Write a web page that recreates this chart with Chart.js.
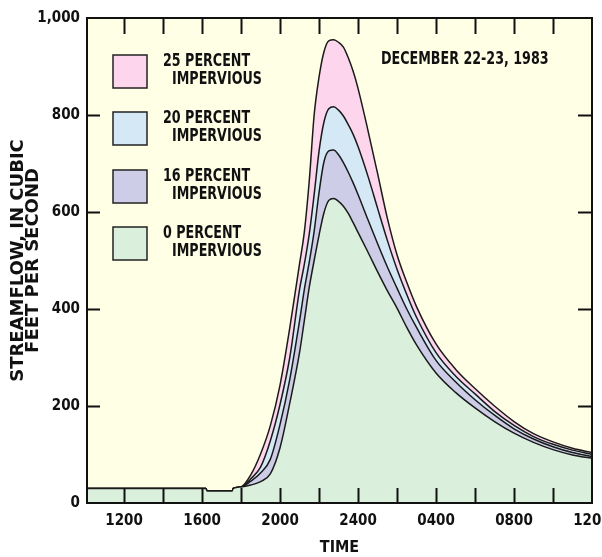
<!DOCTYPE html>
<html>
<head>
<meta charset="utf-8">
<script src="https://cdn.jsdelivr.net/npm/chart.js@4.4.1/dist/chart.umd.min.js"></script>
<style>
  html, body { margin: 0; padding: 0; background: #ffffff; }
  canvas { display: block; }
</style>
</head>
<body>
<canvas id="myChart" width="602" height="557"></canvas>
<script>
// hours since midnight Dec 22 (24 = midnight, 36 = noon Dec 23)
var hours = [10.1, 12, 14, 16, 16.2, 16.25, 17.55, 17.6, 18, 18.5, 19, 19.5, 20, 20.5, 21, 21.25, 21.5, 21.75,
  22, 22.25, 22.5, 22.75, 23, 23.25, 23.5, 23.75, 24, 24.5, 25, 25.5, 26, 26.5, 27, 28, 29, 30, 31, 32, 33, 34, 35, 36];

// streamflow, cubic feet per second
var flow0 = [30, 30, 30, 30, 30, 25, 25, 30, 33, 37, 44, 60, 114, 206, 310, 377, 445, 500,
  552, 598, 624, 628, 622, 612, 597, 578, 558, 518, 477, 438, 402, 362, 326, 268, 228, 196, 168, 144, 125, 110, 99, 92];
var flow16 = [30, 30, 30, 30, 30, 25, 25, 30, 33, 45, 62, 90, 162, 255, 375, 441, 497, 560,
  640, 703, 726, 728, 718, 702, 682, 660, 636, 585, 535, 487, 443, 400, 362, 294, 250, 213, 181, 153, 132, 116, 104, 96];
var flow20 = [30, 30, 30, 30, 30, 25, 25, 30, 33, 50, 74, 128, 203, 300, 440, 493, 555, 636,
  725, 785, 813, 817, 810, 798, 780, 760, 735, 675, 608, 542, 482, 430, 383, 310, 262, 225, 189, 160, 137, 121, 109, 100];
var flow25 = [30, 30, 30, 30, 30, 25, 25, 30, 33, 58, 101, 159, 243, 361, 493, 560, 665, 800,
  878, 930, 953, 955, 950, 940, 918, 890, 855, 770, 680, 588, 512, 455, 405, 328, 276, 236, 200, 168, 143, 126, 113, 104];

var seriesNames = ["0 PERCENT", "16 PERCENT", "20 PERCENT", "25 PERCENT"];
var seriesColors = ["#daf0dc", "#cdcde8", "#d5e8f6", "#fdd5ec"];

var xLabelHours = [12, 16, 20, 24, 28, 32, 36];
var xLabels = ["1200", "1600", "2000", "2400", "0400", "0800", "1200"];
var xMarkHours = [12, 14, 16, 18, 20, 22, 24, 26, 28, 30, 32, 34];
var yTicks = [0, 200, 400, 600, 800, 1000];
var yLabels = ["0", "200", "400", "600", "800", "1,000"];
var yMarks = [200, 400, 600, 800];

var narrow = '"Liberation Sans Narrow", "DejaVu Sans Condensed", "Liberation Sans", sans-serif';

function points(values) {
  return hours.map(function (h, i) {
    return { x: h, y: values[i] };
  });
}

// squeezed text, the original lettering is very narrow
function narrowText(ctx, text, x, y) {
  ctx.save();
  ctx.translate(x, y);
  ctx.scale(0.83, 1);
  ctx.fillText(text, 0, 0);
  ctx.restore();
}

// plot background, frame, inward ticks, legend and date
var decorations = {
  id: "decorations",
  beforeDatasetsDraw: function (chart) {
    var a = chart.chartArea;
    var ctx = chart.ctx;
    ctx.save();
    ctx.fillStyle = "#ffffe6";
    ctx.fillRect(a.left, a.top, a.right - a.left, a.bottom - a.top);
    ctx.restore();
  },
  afterDatasetsDraw: function (chart) {
    var a = chart.chartArea;
    var ctx = chart.ctx;
    var xs = chart.scales.x;
    var ys = chart.scales.y;
    ctx.save();
    ctx.strokeStyle = "#111";
    ctx.lineWidth = 2;
    ctx.beginPath();
    xMarkHours.forEach(function (h) {
      var px = Math.round(xs.getPixelForValue(h)) + 0.5;
      ctx.moveTo(px, a.bottom);
      ctx.lineTo(px, a.bottom - 15);
      ctx.moveTo(px, a.top);
      ctx.lineTo(px, a.top + 16);
    });
    yMarks.forEach(function (v) {
      var py = Math.round(ys.getPixelForValue(v)) + 0.5;
      ctx.moveTo(a.left, py);
      ctx.lineTo(a.left + 13, py);
      ctx.moveTo(a.right, py);
      ctx.lineTo(a.right - 14, py);
    });
    ctx.stroke();
    ctx.lineWidth = 2;
    ctx.strokeRect(a.left, a.top, a.right - a.left, a.bottom - a.top);

    // legend, top item first
    ctx.font = "bold 17px " + narrow;
    ctx.textBaseline = "middle";
    var tops = [227, 170, 112, 55];
    for (var i = 0; i < seriesNames.length; i++) {
      var top = tops[i];
      ctx.fillStyle = seriesColors[i];
      ctx.fillRect(113, top, 34, 33);
      ctx.lineWidth = 1.5;
      ctx.strokeStyle = "#222";
      ctx.strokeRect(113, top, 34, 33);
      ctx.fillStyle = "#111";
      narrowText(ctx, seriesNames[i], 163, top + 7);
      narrowText(ctx, "IMPERVIOUS", 172, top + 25);
    }
    narrowText(ctx, "DECEMBER 22-23, 1983", 381, 60);
    ctx.restore();
  }
};

var ctx = document.getElementById("myChart").getContext("2d");
var myChart = new Chart(ctx, {
  type: "line",
  data: {
    datasets: [
      { label: seriesNames[0], data: points(flow0), backgroundColor: seriesColors[0], fill: "origin" },
      { label: seriesNames[1], data: points(flow16), backgroundColor: seriesColors[1], fill: "-1" },
      { label: seriesNames[2], data: points(flow20), backgroundColor: seriesColors[2], fill: "-1" },
      { label: seriesNames[3], data: points(flow25), backgroundColor: seriesColors[3], fill: "-1" },
    ],
  },
  options: {
    responsive: false,
    animation: false,
    devicePixelRatio: 1,
    layout: { padding: { top: 18, right: 10, left: 0, bottom: 0 }, autoPadding: false },
    elements: {
      point: { radius: 0 },
      line: { borderColor: "#1a1a1a", borderWidth: 1.5, cubicInterpolationMode: "monotone" },
    },
    plugins: {
      legend: { display: false },
      tooltip: { enabled: false },
    },
    scales: {
      x: {
        type: "linear",
        min: 10.1,
        max: 36,
        grid: { display: false, drawTicks: false },
        border: { display: false },
        afterBuildTicks: function (s) {
          s.ticks = xLabelHours.map(function (v) { return { value: v }; });
        },
        afterFit: function (s) {
          s.height = 54;
          s.paddingLeft = 0;
          s.paddingRight = 0;
        },
        ticks: {
          autoSkip: false,
          maxRotation: 0,
          padding: 9,
          color: "#111",
          font: { family: narrow, size: 15, weight: "bold" },
          callback: function (v) {
            return xLabels[xLabelHours.indexOf(v)];
          },
        },
        title: {
          display: true,
          text: "TIME",
          color: "#111",
          padding: { top: 0, bottom: 0 },
          font: { family: narrow, size: 16, weight: "bold" },
        },
      },
      y: {
        min: 0,
        max: 1000,
        grid: { display: false, drawTicks: false },
        border: { display: false },
        afterBuildTicks: function (s) {
          s.ticks = yTicks.map(function (v) { return { value: v }; });
        },
        afterFit: function (s) {
          s.width = 87;
          s.paddingTop = 0;
          s.paddingBottom = 0;
        },
        ticks: {
          padding: 7,
          color: "#111",
          font: { family: narrow, size: 15, weight: "bold" },
          callback: function (v) {
            return yLabels[yTicks.indexOf(v)];
          },
        },
        title: {
          display: true,
          text: ["STREAMFLOW, IN CUBIC", "FEET PER SECOND"],
          color: "#111",
          padding: { top: 11, bottom: 0 },
          font: { family: '"DejaVu Sans", sans-serif', size: 18, weight: "bold", lineHeight: 0.84 },
        },
      },
    },
  },
  plugins: [decorations],
});
</script>
</body>
</html>
